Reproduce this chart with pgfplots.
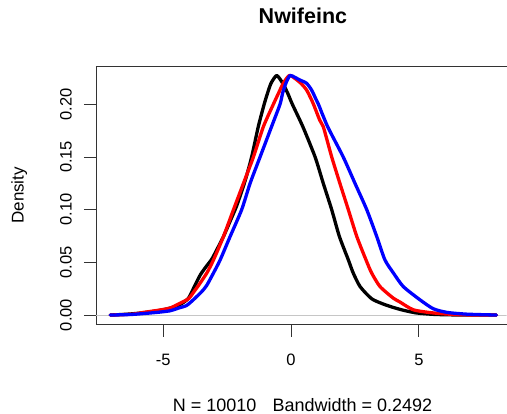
\documentclass[border=0pt]{standalone}
\usepackage{pgfplots}
\pgfplotsset{compat=1.18}
\usepackage{fontspec}
\setmainfont{Liberation Sans}
\definecolor{rred}{RGB}{255,0,0}
\definecolor{rblue}{RGB}{0,0,255}
\begin{document}
\begin{tikzpicture}
\begin{axis}[
  name=ax,
  scale only axis, width=411pt, height=259pt,
  xmin=-7.63, xmax=8.43, ymin=-0.0092, ymax=0.2363,
  axis x line*=box, axis y line*=left,
  xtick={-5,0,5}, ytick={0,0.05,0.1,0.15,0.2},
  xtick pos=left, ytick pos=left,
  tick align=outside, major tick length=12pt,
  axis line style={black!80, line width=0.8pt, -},
  tick style={black!80, line width=0.8pt},
  /pgf/number format/assume math mode=true,
  ticklabel style={font=\fontsize{16.5}{19}\selectfont, inner sep=0pt},
  xticklabel style={anchor=base},
  xticklabel shift=29pt,
  yticklabel style={rotate=90, anchor=south, /pgf/number format/.cd, fixed, fixed zerofill, precision=2},
  yticklabel shift=12pt,
  title={Nwifeinc},
  title style={at={(axis description cs:0.504,1.139)}, anchor=base, inner sep=0pt, font=\bfseries\fontsize{21.5}{25}\selectfont},
  xlabel={N = 10010\hspace{0.9em}Bandwidth = 0.2492},
  xlabel style={at={(axis description cs:0.503,-0.334)}, anchor=base, inner sep=0pt, font=\fontsize{18}{21}\selectfont},
  ylabel={Density},
  ylabel style={at={(axis description cs:-0.1869,0.5)}, anchor=center, inner sep=0pt, font=\fontsize{17}{20}\selectfont},
  clip=true,
]
\addplot[gray!45, line width=0.5pt] coordinates {(-7.63,0) (8.43,0)};
% black
\addplot[black, line width=3.3pt, line join=round, line cap=round, smooth, tension=0.4] coordinates {
(-7.07,0) (-6.4,0.0008) (-5.64,0.0025) (-5.0,0.005) (-4.6,0.0075) (-4.3,0.0105)
(-4.01,0.016) (-3.76,0.028) (-3.55,0.038) (-3.35,0.045) (-3.10,0.053) (-2.88,0.063)
(-2.64,0.0746) (-2.40,0.088) (-2.12,0.104) (-1.80,0.127) (-1.54,0.150) (-1.28,0.1788)
(-1.05,0.20) (-0.92,0.2104) (-0.78,0.22) (-0.56,0.2272) (-0.33,0.22) (-0.13,0.2104)
(0.05,0.20) (0.46,0.1788) (0.94,0.15) (1.26,0.125) (1.59,0.10) (1.89,0.0746)
(2.24,0.0524) (2.43,0.040) (2.70,0.027) (3.15,0.0155) (3.6,0.0105) (4.0,0.0072)
(4.4,0.0045) (4.9,0.002) (5.6,0.0006) (6.5,0.0001) (8.03,0)};
% red
\addplot[rred, line width=3.3pt, line join=round, line cap=round, smooth, tension=0.4] coordinates {
(-7.07,0) (-6.2,0.0008) (-5.77,0.0025) (-5.2,0.0045) (-4.73,0.0066) (-4.4,0.0105)
(-4.01,0.0155) (-3.8,0.022) (-3.62,0.028) (-3.29,0.040) (-3.03,0.0524) (-2.64,0.0746)
(-2.25,0.10) (-1.86,0.125) (-1.47,0.150) (-1.08,0.1788) (-0.69,0.20) (-0.49,0.2104)
(-0.30,0.22) (-0.07,0.2272) (0.15,0.2245) (0.40,0.2195) (0.62,0.213) (0.86,0.201)
(1.12,0.185) (1.26,0.1788) (1.59,0.150) (1.91,0.125) (2.24,0.10) (2.57,0.0746)
(2.93,0.0524) (3.15,0.040) (3.48,0.027) (4.0,0.016) (4.25,0.0125) (4.78,0.005)
(5.56,0.002) (6.6,0.0003) (8.03,0)};
% blue
\addplot[rblue, line width=3.3pt, line join=round, line cap=round, smooth, tension=0.4] coordinates {
(-7.07,0) (-6.2,0.0006) (-5.25,0.0025) (-4.74,0.004) (-4.40,0.0066) (-4.09,0.0090)
(-3.82,0.0145) (-3.50,0.022) (-3.30,0.028) (-3.03,0.040) (-2.77,0.0524) (-2.38,0.0746)
(-1.93,0.10) (-1.60,0.125) (-1.21,0.150) (-0.76,0.1788) (-0.43,0.20) (-0.33,0.2104)
(-0.20,0.22) (-0.04,0.2272) (0.15,0.2255) (0.34,0.223) (0.60,0.22) (0.80,0.2136)
(0.99,0.204) (1.07,0.20) (1.43,0.1788) (2.04,0.150) (2.50,0.125) (2.96,0.10)
(3.35,0.0746) (3.67,0.0524) (4.0,0.040) (4.39,0.027) (5.04,0.0145) (5.56,0.006)
(6.1,0.0025) (6.9,0.0008) (8.03,0)};
\end{axis}
\path ([xshift=-96pt,yshift=-89pt]ax.south west) rectangle ([yshift=66pt]ax.north east);
\end{tikzpicture}
\end{document}
